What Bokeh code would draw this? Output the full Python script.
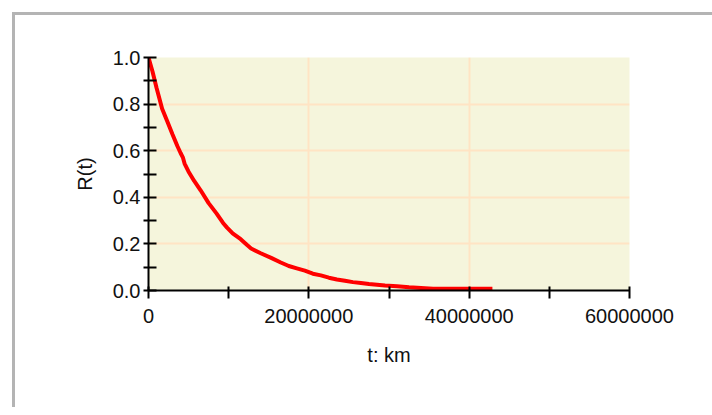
from bokeh.plotting import figure
from bokeh.models import FixedTicker, NumeralTickFormatter, PrintfTickFormatter, Range1d
from bokeh.embed import file_html
from bokeh.resources import INLINE

# Reliability curve R(t) (t in km)
t_km = [0, 0.5e6, 1.0e6, 1.7e6, 2.3e6, 3.0e6, 3.6e6, 4.0e6, 4.3e6, 4.5e6, 5.0e6, 5.7e6,
        6.5e6, 7.5e6, 8.5e6, 9.3e6, 9.8e6, 10.5e6, 11.5e6, 12.3e6, 12.8e6, 14.0e6, 15.3e6,
        16.5e6, 17.5e6, 18.5e6, 19.5e6, 20.5e6, 21.5e6, 22.5e6, 23.5e6, 24.5e6, 25.5e6,
        26.5e6, 27.5e6, 28.5e6, 29.5e6, 31.0e6, 32.5e6, 34.0e6, 35.5e6, 38.0e6, 40.0e6, 42.9e6]
R_t = [1.0, 0.94, 0.87, 0.78, 0.73, 0.67, 0.62, 0.59, 0.57, 0.545, 0.51, 0.47,
       0.43, 0.375, 0.33, 0.29, 0.27, 0.245, 0.22, 0.195, 0.18, 0.16, 0.14,
       0.12, 0.105, 0.095, 0.085, 0.072, 0.065, 0.055, 0.047, 0.042, 0.036,
       0.032, 0.028, 0.025, 0.021, 0.018, 0.014, 0.011, 0.008, 0.007, 0.007, 0.007]

x_ticks = [0, 20000000, 40000000, 60000000]
x_minor = [10000000, 30000000, 50000000]
y_ticks = [0.0, 0.2, 0.4, 0.6, 0.8, 1.0]
y_minor = [0.1, 0.3, 0.5, 0.7, 0.9]

FONT = "Liberation Sans"
FS = "20px"

p = figure(width=700, height=395, output_backend="svg", toolbar_location=None,
           x_range=Range1d(0, 60000000), y_range=Range1d(0, 1.0),
           min_border_left=133, min_border_right=86, min_border_top=42, min_border_bottom=120,
           background_fill_color="#F5F5DC", border_fill_color="white")
p.outline_line_color = None

p.line(t_km, R_t, line_color="red", line_width=4)

p.xaxis.ticker = FixedTicker(ticks=x_ticks, minor_ticks=x_minor)
p.yaxis.ticker = FixedTicker(ticks=y_ticks, minor_ticks=y_minor)
p.xaxis.formatter = NumeralTickFormatter(format="0")
p.yaxis.formatter = PrintfTickFormatter(format="%.1f")

for ax in (p.xaxis, p.yaxis):
    ax.axis_line_width = 2
    ax.axis_line_color = "black"
    ax.major_tick_line_width = 2
    ax.minor_tick_line_width = 2
    ax.major_tick_line_color = "black"
    ax.minor_tick_line_color = "black"
    ax.major_label_text_font = FONT
    ax.major_label_text_font_size = FS
    ax.major_label_text_color = "#111111"
    ax.axis_label_text_font = FONT
    ax.axis_label_text_font_size = FS
    ax.axis_label_text_font_style = "normal"
    ax.axis_label_text_color = "#111111"

p.xaxis.major_tick_in = 4
p.xaxis.major_tick_out = 8
p.xaxis.minor_tick_in = 4
p.xaxis.minor_tick_out = 8
p.yaxis.major_tick_in = 8
p.yaxis.major_tick_out = 5
p.yaxis.minor_tick_in = 8
p.yaxis.minor_tick_out = 5

p.xaxis.axis_label = "t: km"
p.yaxis.axis_label = "R(t)"
p.xaxis.major_label_standoff = 10
p.yaxis.major_label_standoff = 3
p.xaxis.axis_label_standoff = 18
p.yaxis.axis_label_standoff = 14

p.xgrid.grid_line_color = "#FFE4C4"
p.ygrid.grid_line_color = "#FFE4C4"
p.xgrid.grid_line_width = 2
p.ygrid.grid_line_width = 2

p.styles = {"margin": "12px 0 0 12px",
            "border-left": "3px solid #b4b4b4", "border-top": "3px solid #b4b4b4"}

open("out.html", "w").write(file_html(p, INLINE))
